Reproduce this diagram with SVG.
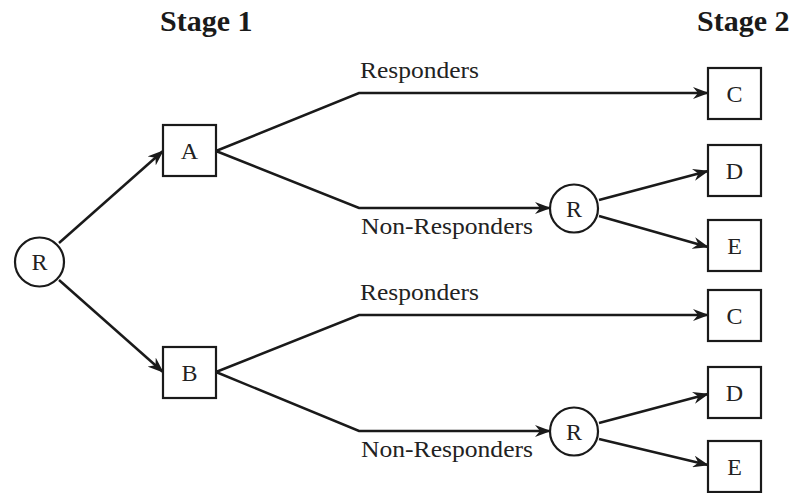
<svg xmlns="http://www.w3.org/2000/svg" width="805" height="493" viewBox="0 0 805 493">
<defs>
<marker id="arr" viewBox="0 0 16 12" refX="15" refY="6" markerWidth="16" markerHeight="12" markerUnits="userSpaceOnUse" orient="auto">
<path d="M0,0 L16,6 L0,12 L5,6 z" fill="#1a1a1a"/>
</marker>
<style>
.box{fill:#fff;stroke:#1a1a1a;stroke-width:2.2}
.circ{fill:#fff;stroke:#1a1a1a;stroke-width:2.2}
.lbl{font-family:"Liberation Serif","Times New Roman",serif;font-size:24px;fill:#222;text-anchor:middle}
.edge{fill:none;stroke:#1a1a1a;stroke-width:2.5;stroke-linejoin:miter}
.etxt{font-family:"Liberation Serif","Times New Roman",serif;font-size:23px;fill:#222}
.stage{font-family:"Liberation Serif","Times New Roman",serif;font-size:30px;font-weight:bold;fill:#1a1a1a}
</style>
</defs>
<rect width="805" height="493" fill="#fff"/>
<text class="stage" x="160" y="31">Stage 1</text>
<text class="stage" x="697" y="31">Stage 2</text>

<g id="connectors">
<path class="edge" d="M59,243 L163,151" marker-end="url(#arr)"/>
<path class="edge" d="M59,280 L163,372" marker-end="url(#arr)"/>
<path class="edge" d="M216,151 L359,93 L708,93" marker-end="url(#arr)"/>
<path class="edge" d="M216,151 L359,208 L550,208" marker-end="url(#arr)"/>
<path class="edge" d="M599,200 L708,171" marker-end="url(#arr)"/>
<path class="edge" d="M599,216 L708,247" marker-end="url(#arr)"/>
<path class="edge" d="M216,372 L359,315 L708,315" marker-end="url(#arr)"/>
<path class="edge" d="M216,372 L359,431 L550,431" marker-end="url(#arr)"/>
<path class="edge" d="M599,423 L708,394" marker-end="url(#arr)"/>
<path class="edge" d="M599,439 L708,465" marker-end="url(#arr)"/>
<text class="etxt" x="360" y="78" textLength="119" lengthAdjust="spacingAndGlyphs">Responders</text>
<text class="etxt" x="361" y="234" textLength="172" lengthAdjust="spacingAndGlyphs">Non-Responders</text>
<text class="etxt" x="360" y="300" textLength="119" lengthAdjust="spacingAndGlyphs">Responders</text>
<text class="etxt" x="361" y="457" textLength="172" lengthAdjust="spacingAndGlyphs">Non-Responders</text>
</g>

<g id="R0"><circle class="circ" cx="39.5" cy="262" r="24.5"/><text class="lbl" x="39.5" y="270">R</text></g>
<g id="A"><rect class="box" x="163" y="125" width="53" height="51"/><text class="lbl" x="189.5" y="159">A</text></g>
<g id="B"><rect class="box" x="163" y="347" width="53" height="51"/><text class="lbl" x="189.5" y="381">B</text></g>
<g id="R1"><circle class="circ" cx="574" cy="208.5" r="24"/><text class="lbl" x="574" y="216.5">R</text></g>
<g id="R2"><circle class="circ" cx="574" cy="431.5" r="24"/><text class="lbl" x="574" y="439.5">R</text></g>
<g id="C1"><rect class="box" x="708" y="68" width="53" height="51"/><text class="lbl" x="734.5" y="102">C</text></g>
<g id="D1"><rect class="box" x="708" y="145" width="53" height="51"/><text class="lbl" x="734.5" y="179">D</text></g>
<g id="E1"><rect class="box" x="708" y="220" width="53" height="51"/><text class="lbl" x="734.5" y="254">E</text></g>
<g id="C2"><rect class="box" x="708" y="290" width="53" height="51"/><text class="lbl" x="734.5" y="324">C</text></g>
<g id="D2"><rect class="box" x="708" y="367" width="53" height="51"/><text class="lbl" x="734.5" y="401">D</text></g>
<g id="E2"><rect class="box" x="708" y="441" width="53" height="51"/><text class="lbl" x="734.5" y="475">E</text></g>
</svg>
